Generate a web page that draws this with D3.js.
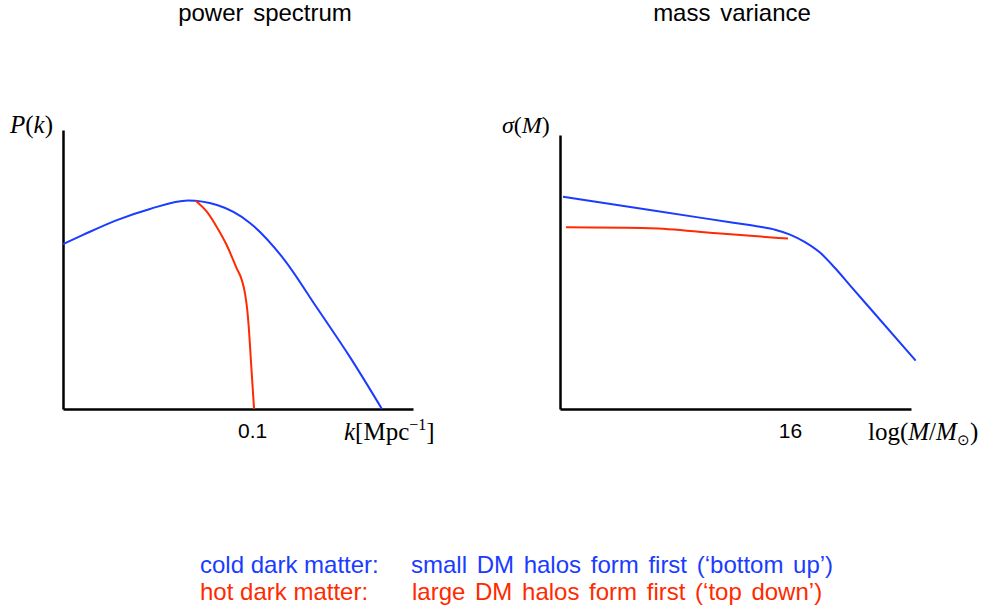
<!DOCTYPE html>
<html>
<head>
<meta charset="utf-8">
<script src="https://cdn.jsdelivr.net/npm/d3@7"></script>
<style>
  body { margin: 0; background: #fff; }
  text { font-family: Helvetica, Arial, "Liberation Sans", sans-serif; }
  .serif { font-family: "Times New Roman", "Liberation Serif", serif; }
</style>
</head>
<body>
<div id="chart-area"></div>
<script>
// power spectrum, schematic (k, P) in arbitrary units
var cdmPk = [[0, 0.591], [0.0106, 0.624], [0.0285, 0.677], [0.046, 0.717], [0.066, 0.747],
             [0.0814, 0.731], [0.0988, 0.667], [0.1163, 0.541], [0.1343, 0.362], [0.1517, 0.186], [0.1686, 0]]
var hdmPk = [[0.0701, 0.7466], [0.0760, 0.7072], [0.0812, 0.6534], [0.0865, 0.5878], [0.0918, 0.5043],
             [0.0945, 0.4624], [0.0962, 0.4147], [0.0974, 0.3548], [0.0983, 0.2832], [0.0992, 0.1875],
             [0.1001, 0.0921], [0.1010, 0]]

// mass variance, (log M, sigma)
var cdmSigma = [[11.065, 0.775], [12.956, 0.726], [14.77, 0.680], [15.348, 0.6653], [15.674, 0.6544],
                [16.0, 0.6365], [16.326, 0.6091], [16.652, 0.5708], [16.978, 0.5146], [17.304, 0.4515],
                [17.667, 0.3814], [18.732, 0.1763]]
var hdmSigma = [[11.13, 0.663], [12.956, 0.660], [14.413, 0.641], [15.956, 0.622]]

var kTicks = [0.1]
var mTicks = [16]
var titles = ["power spectrum", "mass variance"]
var legendRows = [
  {name: "cold dark matter:", text: "small DM halos form first (\u2018bottom up\u2019)", color: "#1a3cff"},
  {name: "hot dark matter:", text: "large DM halos form first (\u2018top down\u2019)", color: "#ff2a00"}
]

var blue = "#1a3cff"
var red = "#ff2a00"

var svg = d3.select("#chart-area")
  .append("svg")
  .attr("width", 985)
  .attr("height", 610)

// left panel scales
var xk = d3.scaleLinear().domain([0, 0.185]).range([63, 413])
var yk = d3.scaleLinear().domain([0, 1]).range([409, 130])

// right panel scales
var xm = d3.scaleLinear().domain([11, 18.63]).range([560, 911])
var ym = d3.scaleLinear().domain([0, 1]).range([409, 135])

function drawAxes(x, y, ticks, ticksFmt) {
  var gx = svg.append("g")
    .attr("transform", "translate(0," + y.range()[0] + ")")
    .call(d3.axisBottom(x).tickValues(ticks).tickSize(0).tickSizeOuter(0).tickPadding(14).tickFormat(ticksFmt))
  gx.select(".domain").attr("stroke", "#000").attr("stroke-width", 2.5)
  gx.selectAll(".tick text")
    .attr("font-size", 21)
    .attr("font-family", "Helvetica, Arial, 'Liberation Sans', sans-serif")
    .attr("fill", "#000")

  var gy = svg.append("g")
    .attr("transform", "translate(" + x.range()[0] + ",0)")
    .call(d3.axisLeft(y).tickValues([]).tickSize(0).tickSizeOuter(0))
  gy.select(".domain").attr("stroke", "#000").attr("stroke-width", 2.5)
}

drawAxes(xk, yk, kTicks, d3.format(".1f"))
drawAxes(xm, ym, mTicks, d3.format("d"))

function drawLine(data, x, y, color) {
  var line = d3.line()
    .x(function(d) { return x(d[0]) })
    .y(function(d) { return y(d[1]) })
    .curve(d3.curveMonotoneX)
  svg.append("path")
    .datum(data)
    .attr("d", line)
    .attr("fill", "none")
    .attr("stroke", color)
    .attr("stroke-width", 2)
}

drawLine(cdmPk, xk, yk, blue)
drawLine(hdmPk, xk, yk, red)
drawLine(cdmSigma, xm, ym, blue)
drawLine(hdmSigma, xm, ym, red)

// titles
svg.selectAll(".title").data(titles).enter()
  .append("text")
  .attr("class", "title")
  .attr("x", function(d, i) { return i == 0 ? 265 : 732 })
  .attr("y", 21)
  .attr("text-anchor", "middle")
  .attr("font-size", 24)
  .attr("word-spacing", 3)
  .text(function(d) { return d })

// axis labels (serif, math style)
var pk = svg.append("text").attr("class", "serif").attr("x", 10).attr("y", 133).attr("font-size", 25)
pk.append("tspan").attr("font-style", "italic").text("P")
pk.append("tspan").text("(")
pk.append("tspan").attr("font-style", "italic").text("k")
pk.append("tspan").text(")")

var kl = svg.append("text").attr("class", "serif").attr("x", 344).attr("y", 440).attr("font-size", 25)
kl.append("tspan").attr("font-style", "italic").text("k")
kl.append("tspan").text("[Mpc")
kl.append("tspan").attr("font-size", 16).attr("dy", -10).text("\u22121")
kl.append("tspan").attr("dy", 10).text("]")

var sl = svg.append("text").attr("class", "serif").attr("x", 502).attr("y", 133).attr("font-size", 24)
sl.append("tspan").attr("font-style", "italic").text("\u03c3")
sl.append("tspan").text("(")
sl.append("tspan").attr("font-style", "italic").text("M")
sl.append("tspan").text(")")

var ml = svg.append("text").attr("class", "serif").attr("x", 868).attr("y", 440).attr("font-size", 25)
ml.append("tspan").text("log(")
ml.append("tspan").attr("font-style", "italic").text("M")
ml.append("tspan").text("/")
ml.append("tspan").attr("font-style", "italic").text("M")
ml.append("tspan").attr("font-size", 15).attr("dy", 5).text("\u2299")
ml.append("tspan").attr("dy", -5).text(")")

// legend
var rows = svg.selectAll(".legend").data(legendRows).enter()
  .append("g")
  .attr("class", "legend")
  .attr("transform", function(d, i) { return "translate(0," + (573 + i * 27) + ")" })
rows.append("text")
  .attr("x", 200)
  .attr("font-size", 24)
  .attr("fill", function(d) { return d.color })
  .text(function(d) { return d.name })
rows.append("text")
  .attr("x", function(d, i) { return i == 0 ? 411 : 412 })
  .attr("font-size", 24)
  .attr("word-spacing", 3)
  .attr("fill", function(d) { return d.color })
  .text(function(d) { return d.text })
</script>
</body>
</html>
